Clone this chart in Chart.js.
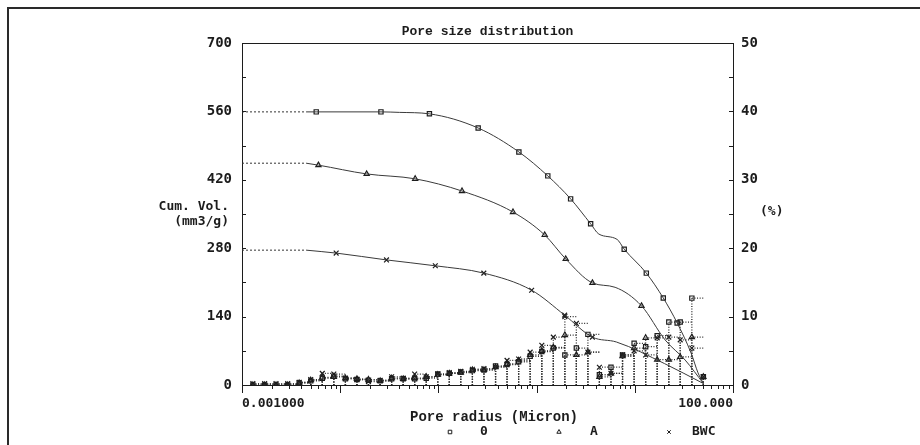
<!DOCTYPE html>
<html>
<head>
<meta charset="utf-8">
<title>Pore size distribution</title>
<script src="https://cdn.jsdelivr.net/npm/chart.js@4"></script>
<style>
  html, body { margin: 0; padding: 0; background: #fff; }
  #chart { display: block; }
</style>
</head>
<body>
<canvas id="chart" width="920" height="445"></canvas>
<script>
// cumulative volume curves (pore radius in micron, volume in mm3/g)
const curveR_O = [0.0045, 0.0057, 0.026, 0.04, 0.081, 0.254, 0.66, 1.30, 2.22, 3.55, 4.3, 6.6, 7.8, 13.1, 19.5, 27, 37.5, 44, 50];
const curveV_O = [559, 559, 559, 558, 555, 526, 477, 428, 381, 330, 309, 298, 278, 229, 178, 127, 65, 25, 3];
const markR_O = [0.0057, 0.026, 0.081, 0.254, 0.66, 1.30, 2.22, 3.55, 7.8, 13.1, 19.5, 27];
const markV_O = [559, 559, 555, 526, 477, 428, 381, 330, 278, 229, 178, 127];

const curveR_A = [0.0045, 0.006, 0.0186, 0.058, 0.174, 0.575, 1.21, 1.98, 3.7, 6.3, 11.7, 20.4, 32.6, 50];
const curveV_A = [454, 450, 432, 422, 397, 354, 307, 258, 209, 200, 162, 92, 51, 3];
const markR_A = [0.006, 0.0186, 0.058, 0.174, 0.575, 1.21, 1.98, 3.7, 11.7];
const markV_A = [450, 432, 422, 397, 354, 307, 258, 209, 162];

const curveR_BWC = [0.0045, 0.0091, 0.0296, 0.093, 0.29, 0.89, 1.93, 3.7, 6.5, 20, 50];
const curveV_BWC = [276, 270, 256, 244, 229, 194, 143, 98, 88, 44, 3];
const markR_BWC = [0.0091, 0.0296, 0.093, 0.29, 0.89, 1.93, 3.7];
const markV_BWC = [270, 256, 244, 229, 194, 143, 98];

// incremental distribution (%), one value per radius class
const binR = [0.00129, 0.0017, 0.00222, 0.00292, 0.00382, 0.00501, 0.00657, 0.00861, 0.0113, 0.0148,
              0.0194, 0.0255, 0.0334, 0.0438, 0.0573, 0.0752, 0.0986, 0.129, 0.169, 0.222,
              0.291, 0.382, 0.5, 0.656, 0.86, 1.13, 1.48, 1.94, 2.54, 3.33,
              4.36, 5.72, 7.5, 9.84, 12.9, 16.9, 22.2, 29, 38.1, 49.9];
const histO = [0, 0, 0, 0, 0.3, 0.6, 1.0, 1.3, 0.9, 0.8,
               0.7, 0.6, 0.9, 0.9, 0.9, 1.0, 1.6, 1.7, 1.9, 2.1,
               2.2, 2.8, 3.0, 3.4, 4.2, 4.9, 5.4, 4.4, 5.4, 7.4,
               1.5, 2.6, 4.4, 6.1, 5.6, 7.2, 9.2, 9.2, 12.7, 1.2];
const histA = [0, 0, 0, 0, 0.3, 0.7, 1.1, 1.2, 1.0, 0.9,
               0.8, 0.6, 1.0, 0.9, 1.0, 1.2, 1.5, 1.7, 1.8, 2.2,
               2.2, 2.6, 3.1, 3.6, 4.4, 5.0, 5.5, 7.3, 4.4, 4.8,
               1.2, 1.7, 4.2, 5.4, 6.9, 3.7, 3.7, 4.1, 7.0, 1.2];
const histBWC = [0.2, 0.2, 0.2, 0.2, 0.4, 0.8, 1.7, 1.6, 1.0, 0.8,
                 0.5, 0.7, 1.2, 1.0, 1.6, 1.2, 1.6, 1.8, 2.0, 2.3,
                 2.4, 2.7, 3.6, 3.8, 4.8, 5.8, 7.0, 10.0, 9.0, 4.8,
                 2.6, 1.7, 4.4, 5.0, 4.4, 6.9, 7.0, 6.6, 5.4, 1.2];

const seriesNames = ['0', 'A', 'BWC'];
const leftTicks = [0, 140, 280, 420, 560, 700];
const rightTicks = [0, 10, 20, 30, 40, 50];

const INK = '#1c1c1c';
const MONO = "'DejaVu Sans Mono', monospace";
const TMONO = "'Liberation Mono', 'DejaVu Sans Mono', monospace";

function pts(xs, ys) {
    return xs.map((x, i) => ({x: x, y: ys[i]}));
}

function stems(h) {
    const out = [];
    binR.forEach((r, i) => {
        out.push({x: r, y: 0}, {x: r, y: h[i]}, {x: r, y: null});
    });
    return out;
}

function steps(h) {
    const out = [];
    binR.forEach((r, i) => {
        if (i < binR.length - 1) {
            out.push({x: r, y: h[i]}, {x: binR[i + 1], y: h[i]}, {x: r, y: null});
        }
    });
    return out;
}

function curveSet(xs, ys) {
    return {data: pts(xs, ys), yAxisID: 'y', borderColor: '#3a3a3a', borderWidth: 1, pointRadius: 0, tension: 0.35, cubicInterpolationMode: 'monotone'};
}

function extSet(xs, ys) {
    return {data: [{x: 0.001, y: ys[0]}, {x: xs[0], y: ys[0]}], yAxisID: 'y', borderColor: '#333', borderWidth: 1, borderDash: [2, 2], pointRadius: 0};
}

function markSet(xs, ys, style, axis) {
    return {data: pts(xs, ys), yAxisID: axis, showLine: false, pointStyle: style, pointRadius: style === 'crossRot' ? 3.4 : 3,
            pointBorderColor: INK, pointBackgroundColor: 'rgba(0,0,0,0)', pointBorderWidth: 1.2};
}

function dotSet(data) {
    return {data: data, yAxisID: 'y1', borderColor: '#2a2a2a', borderWidth: 1.3, borderDash: [1, 1.6], pointRadius: 0, spanGaps: false};
}

const styles = ['rect', 'triangle', 'crossRot'];
const hists = [histO, histA, histBWC];

const datasets = [
    curveSet(curveR_O, curveV_O), extSet(curveR_O, curveV_O), markSet(markR_O, markV_O, 'rect', 'y'),
    curveSet(curveR_A, curveV_A), extSet(curveR_A, curveV_A), markSet(markR_A, markV_A, 'triangle', 'y'),
    curveSet(curveR_BWC, curveV_BWC), extSet(curveR_BWC, curveV_BWC), markSet(markR_BWC, markV_BWC, 'crossRot', 'y')
];
hists.forEach((h, k) => {
    datasets.push(dotSet(stems(h)));
    datasets.push(dotSet(steps(h)));
    datasets.push(markSet(binR, h, styles[k], 'y1'));
});

// frame, inward ticks and all the loose texts
const decorPlugin = {
    id: 'decor',
    afterDraw(chart) {
        const ctx = chart.ctx;
        const a = chart.chartArea;
        const sx = chart.scales.x, sy = chart.scales.y, sy1 = chart.scales.y1;
        ctx.save();
        ctx.strokeStyle = '#2a2a2a';
        ctx.lineWidth = 2;
        ctx.beginPath();
        ctx.moveTo(8, 445); ctx.lineTo(8, 8); ctx.lineTo(920, 8);
        ctx.stroke();

        ctx.lineWidth = 1;
        ctx.strokeStyle = INK;
        ctx.beginPath();
        ctx.moveTo(a.left, a.top + 0.5); ctx.lineTo(a.right, a.top + 0.5);
        sy.ticks.forEach(t => {
            const y = Math.round(sy.getPixelForValue(t.value)) + 0.5;
            ctx.moveTo(a.left, y); ctx.lineTo(a.left + 4, y);
        });
        sy1.ticks.forEach(t => {
            const y = Math.round(sy1.getPixelForValue(t.value)) + 0.5;
            ctx.moveTo(a.right, y); ctx.lineTo(a.right - 4, y);
        });
        for (let e = -3; e <= 2; e++) {
            for (let k = 1; k <= 9; k++) {
                const v = k * Math.pow(10, e);
                if (v > 100.0001) continue;
                const x = Math.round(sx.getPixelForValue(v)) + 0.5;
                ctx.moveTo(x, a.bottom); ctx.lineTo(x, a.bottom + (k === 1 ? 8 : 4));
            }
        }
        ctx.stroke();

        ctx.fillStyle = INK;
        ctx.textBaseline = 'middle';
        ctx.font = 'bold 13px ' + TMONO;
        ctx.textAlign = 'center';
        ctx.fillText('Pore size distribution', (a.left + a.right) / 2, 32);
        ctx.font = 'bold 14px ' + TMONO;
        ctx.fillText('Pore radius (Micron)', 494, 417);
        ctx.font = 'bold 13px ' + MONO;
        ctx.textAlign = 'right';
        ctx.fillText('Cum. Vol.', 229, 207);
        ctx.fillText('(mm3/g)', 229, 222);
        ctx.textAlign = 'left';
        ctx.fillText('(%)', 760, 212);

        // legend
        const lx = [450, 559, 669];
        const tx = [480, 590, 692];
        seriesNames.forEach((name, k) => {
            ctx.fillStyle = 'rgba(0,0,0,0)';
            ctx.strokeStyle = INK;
            ctx.lineWidth = 1;
            Chart.helpers.drawPoint(ctx, {pointStyle: styles[k], radius: 2.5, borderWidth: 1}, lx[k], 432);
            ctx.fillStyle = INK;
            ctx.fillText(name, tx[k], 432);
        });
        ctx.restore();
    }
};

new Chart(document.getElementById('chart'), {
    type: 'line',
    data: {datasets: datasets},
    options: {
        responsive: false,
        animation: false,
        devicePixelRatio: 1,
        layout: {padding: {top: 43, left: 0, right: 0, bottom: 0}},
        plugins: {legend: {display: false}, title: {display: false}, tooltip: {enabled: false}},
        scales: {
            x: {
                type: 'logarithmic', min: 0.001, max: 100, position: 'bottom',
                grid: {display: false, drawTicks: false},
                border: {display: true, color: INK, width: 1},
                ticks: {
                    autoSkip: false, maxRotation: 0, align: 'inner', padding: 11,
                    color: INK, font: {family: MONO, size: 13, weight: 'bold'},
                    callback: v => Math.abs(Math.log10(v) + 3) < 1e-6 ? '0.001000' : (Math.abs(Math.log10(v) - 2) < 1e-6 ? '100.000' : '')
                },
                afterFit: s => { s.height = 60; }
            },
            y: {
                position: 'left', min: 0, max: 700,
                grid: {display: false, drawTicks: false},
                border: {display: true, color: INK, width: 1},
                ticks: {
                    stepSize: 70, padding: 10, color: INK, font: {family: MONO, size: 14, weight: 'bold'},
                    callback: v => leftTicks.includes(v) ? String(v) : ''
                },
                afterFit: s => { s.width = 242; }
            },
            y1: {
                position: 'right', min: 0, max: 50,
                grid: {display: false, drawTicks: false},
                border: {display: true, color: INK, width: 1},
                ticks: {
                    stepSize: 5, padding: 8, color: INK, font: {family: MONO, size: 14, weight: 'bold'},
                    callback: v => rightTicks.includes(v) ? String(v) : ''
                },
                afterFit: s => { s.width = 187; }
            }
        }
    },
    plugins: [decorPlugin]
});
</script>
</body>
</html>
